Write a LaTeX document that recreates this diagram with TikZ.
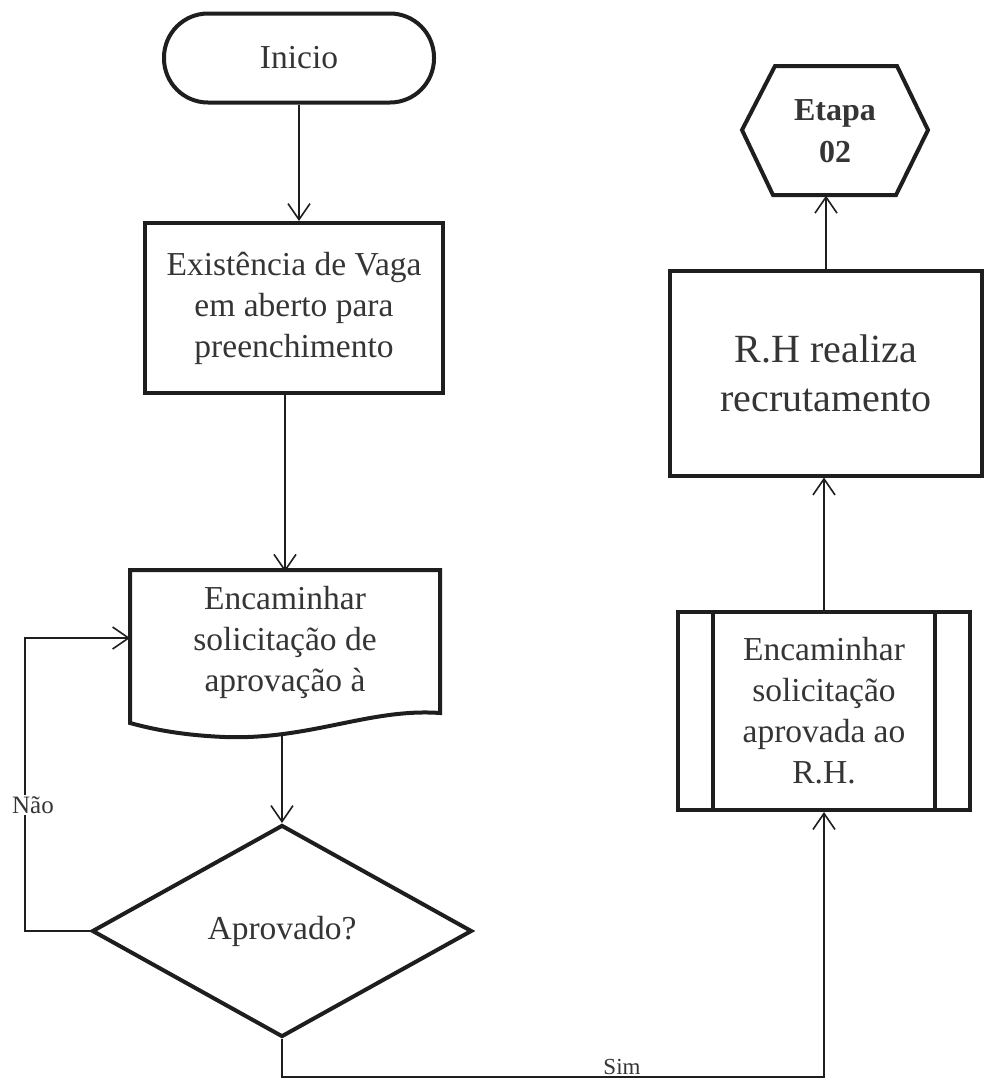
\documentclass[tikz,border=0pt]{standalone}
\usepackage{fontspec}
\setmainfont{Liberation Serif}
\usetikzlibrary{shapes.geometric,arrows.meta}
\definecolor{ink}{HTML}{1E1E1E}
\definecolor{txt}{HTML}{353535}
\begin{document}
\begin{tikzpicture}[x=1pt,y=-1pt,
  shapebox/.style={draw=ink, line width=4pt, text=txt, align=center, inner sep=0pt, font=\fontsize{33.5}{41}\selectfont},
  plain/.style={text=txt, align=center, inner sep=0pt, font=\fontsize{33.5}{41}\selectfont},
  outline/.style={draw=ink, line width=4pt, line join=miter},
  conn/.style={draw=ink, line width=1.6pt, -{Straight Barb[length=16pt,width=22pt,line width=1.6pt]}},
  lbl/.style={text=txt, fill=white, inner sep=1.5pt, font=\fontsize{25}{28}\selectfont}
]
\path[use as bounding box] (0,0) rectangle (986,1085);

% nodes
\node[shapebox, rounded corners=44pt, minimum width=270pt, minimum height=89pt] (start) at (299,58) {Inicio};
\node[shapebox, minimum width=298pt, minimum height=170pt] (vaga) at (294,308) {Existência de Vaga\\em aberto para\\preenchimento};
\node[plain, minimum width=310pt, minimum height=140pt] (doc) at (285,642) {Encaminhar\\solicitação de\\aprovação à};
\draw[outline] (130,570) -- (440,570) -- (440,713) .. controls (370,708) and (310,740) .. (225,737) .. controls (175,735) and (145,727) .. (130,723) -- cycle;
\coordinate (docb) at (282,734);
\coordinate (docin) at (130,638);
\node[shapebox, diamond, minimum width=380pt, minimum height=212pt] (dec) at (282,931) {Aprovado?};

\node[shapebox, minimum width=292pt, minimum height=198pt] (pp) at (824,711) {Encaminhar\\solicitação\\aprovada ao\\R.H.};
\draw[outline] ([xshift=37pt]pp.north west) -- ([xshift=37pt]pp.south west);
\draw[outline] ([xshift=-37pt]pp.north east) -- ([xshift=-37pt]pp.south east);

\node[shapebox, minimum width=312pt, minimum height=205pt, font=\fontsize{40}{49}\selectfont] (rh) at (826,373) {R.H realiza\\recrutamento};

\node[plain, font=\bfseries\fontsize{32}{42}\selectfont, minimum width=186pt, minimum height=129pt] (etapa) at (835,131) {Etapa\\02};
\draw[outline] (742,130) -- (775,66) -- (897,66) -- (928,130) -- (896,195) -- (773,195) -- cycle;

% connectors
\draw[conn] (start.south) -- (start.south |- vaga.north);
\draw[conn] (doc.north |- vaga.south) -- (doc.north);
\draw[conn] (docb) -- (dec.north);
\draw[conn] (dec.west) -- ++(-65,0) |- (docin);
\draw[conn] (dec.south) -- ++(0,38) -| (pp.south);
\draw[conn] (pp.north) -- (pp.north |- rh.south);
\draw[conn] (rh.north) -- (rh.north |- etapa.south);

% labels
\node[lbl] (nao) at (33,805) {Não};
\node[lbl, font=\fontsize{23}{26}\selectfont] (sim) at (622,1067) {Sim};
\end{tikzpicture}
\end{document}
